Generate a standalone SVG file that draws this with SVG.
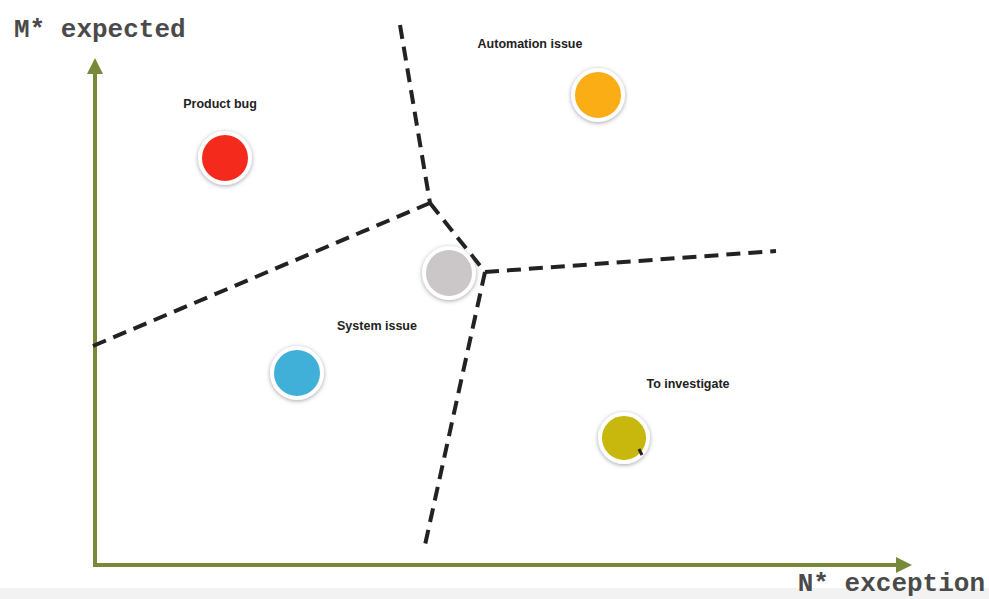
<svg xmlns="http://www.w3.org/2000/svg" width="989" height="599" viewBox="0 0 989 599">
<defs>
<style>
.axis{stroke:#78893a;stroke-width:4;fill:none}
.dash{stroke:#222;stroke-width:4;stroke-dasharray:14 8;fill:none}
.lbl{font-family:"Liberation Sans",Arial,sans-serif;font-weight:bold;font-size:12.5px;fill:#222;text-anchor:middle}
.ax{font-family:"Liberation Mono","Courier New",monospace;font-size:26px;font-weight:bold;fill:#4a4a4a}
.dot{stroke:#fff;stroke-width:4;filter:url(#sh)}
</style>
<filter id="sh" x="-30%" y="-30%" width="160%" height="160%">
<feDropShadow dx="0" dy="1" stdDeviation="2" flood-color="#667" flood-opacity="0.6"/>
</filter>
<marker id="ah" viewBox="0 0 10 10" refX="5" refY="5" markerWidth="4" markerHeight="4" orient="auto">
<path d="M0,0 L10,5 L0,10 Z" fill="#78893a"/>
</marker>
</defs>
<rect x="0" y="0" width="989" height="599" fill="#fff"/>
<rect x="0" y="588" width="989" height="11" fill="#f2f2f2"/>
<g id="connectors">
<path class="axis" d="M95,565 L95,66" marker-end="url(#ah)"/>
<path class="axis" d="M93,565 L904,565" marker-end="url(#ah)"/>
<path class="dash" d="M93,346 L430,203"/>
<path class="dash" d="M400,25 L430,203"/>
<path class="dash" d="M430,203 L485,272"/>
<path class="dash" d="M485,272 L776,251"/>
<path class="dash" d="M485,272 L425,545"/>
</g>
<g id="axis-y-label"><text class="ax" x="14" y="37">M* expected</text></g>
<g id="axis-x-label"><text class="ax" x="985" y="591" text-anchor="end">N* exception</text></g>
<g id="product-bug">
<circle class="dot" cx="225" cy="158" r="25" fill="#f42c1c"/>
<text class="lbl" x="220" y="108">Product bug</text>
</g>
<g id="automation-issue">
<circle class="dot" cx="598" cy="95" r="25" fill="#fbad18"/>
<text class="lbl" x="530" y="48">Automation issue</text>
</g>
<g id="center">
<circle class="dot" cx="449" cy="273" r="25" fill="#cbc6c8"/>
</g>
<g id="system-issue">
<circle class="dot" cx="297" cy="373" r="25" fill="#3fb0d8"/>
<text class="lbl" x="377" y="330">System issue</text>
</g>
<g id="to-investigate">
<circle class="dot" cx="624" cy="438" r="24" fill="#c8b707"/>
<path d="M639,449 L642,455" stroke="#222" stroke-width="3"/>
<text class="lbl" x="688" y="388">To investigate</text>
</g>
</svg>
